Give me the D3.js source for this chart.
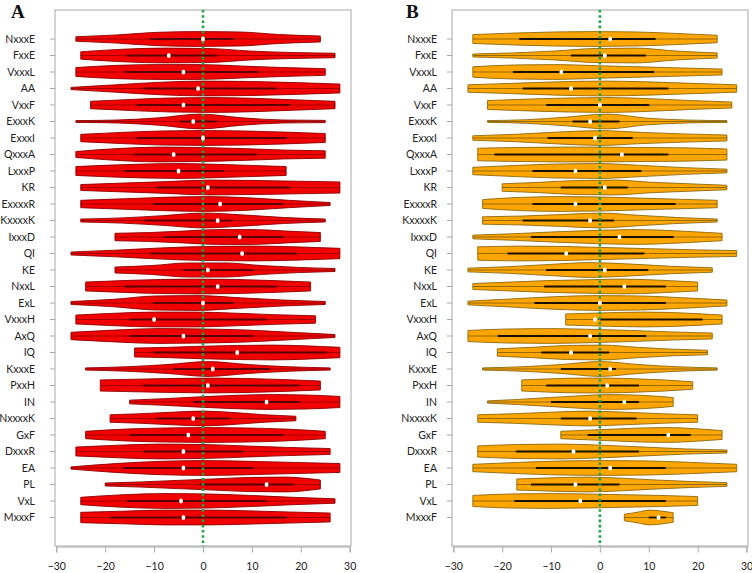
<!DOCTYPE html>
<html><head><meta charset="utf-8">
<script src="https://cdn.jsdelivr.net/npm/d3@7"></script>
<style>body{margin:0;background:#fff}svg{display:block}</style>
</head><body><svg id="c" width="752" height="573"></svg>
<script>
const categories = ["NxxxE","FxxE","VxxxL","AA","VxxF","ExxxK","ExxxI","QxxxA","LxxxP","KR","ExxxxR","KxxxxK","IxxxD","QI","KE","NxxL","ExL","VxxxH","AxQ","IQ","KxxxE","PxxH","IN","NxxxxK","GxF","DxxxR","EA","PL","VxL","MxxxF"];
const xTicks = [-30,-20,-10,0,10,20,30];

// Panel A
const minA = [-26,-25,-26,-27,-23,-26,-25,-26,-26,-25,-25,-25,-18,-27,-18,-24,-27,-26,-27,-14,-24,-21,-15,-19,-24,-26,-27,-20,-25,-25];
const maxA = [24,27,25,28,27,25,25,25,17,28,26,25,24,28,27,22,25,23,27,28,26,24,28,19,25,26,28,24,27,26];
const q1A  = [-10.8,-15.6,-16,-12.2,-13.6,-4.7,-13.6,-14.2,-16,-9.5,-10.2,-12,-8.1,-10.8,-4,-16,-10.2,-15,-15,-10.2,-6,-12.2,-2,-9.5,-15,-12.2,-16.3,-0.6,-15.6,-19];
const q3A  = [6.2,2.8,11.3,15.1,17.8,2.8,17.1,11,4.2,17.8,16.4,6,16.4,19.2,10.3,15,6.2,13,10.3,25.3,13.7,19.8,19.8,5.5,16.4,8.2,10.3,18.5,13,17.1];
const medA = [0,-7,-4,-1,-4,-2,0,-6,-5,1,3.5,3,7.5,8,1,3,0,-10,-4,7,2,1,13,-2,-3,-4,-4,13,-4.5,-4];
const densA = [
 [0.3,0.55,0.9,1,0.95,0.6,0.4],[0.5,0.85,1,0.95,0.6,0.4,0.3],[0.6,0.9,1,1,0.8,0.6,0.45],
 [0.15,0.5,0.85,1,0.95,0.8,0.6],[0.5,0.75,0.95,1,0.9,0.7,0.5],[0.12,0.2,0.5,1,0.5,0.2,0.15],
 [0.5,0.75,0.95,1,0.95,0.8,0.6],[0.4,0.8,1,0.95,0.8,0.6,0.5],[0.6,0.8,0.95,1,0.9,0.75,0.6],
 [0.4,0.6,0.8,1,0.95,0.85,0.75],[0.5,0.7,0.9,1,0.85,0.5,0.2],[0.2,0.35,0.65,1,0.75,0.4,0.2],
 [0.5,0.6,0.8,1,1,0.8,0.6],[0.2,0.45,0.75,0.95,1,0.9,0.7],[0.4,0.6,0.95,0.95,0.6,0.35,0.2],
 [0.6,0.8,0.95,1,0.95,0.8,0.6],[0.2,0.5,0.95,1,0.7,0.4,0.2],[0.6,0.85,1,1,0.85,0.65,0.5],
 [0.5,0.8,1,0.95,0.8,0.5,0.2],[0.6,0.7,0.85,0.95,1,0.9,0.7],[0.15,0.3,0.6,1,0.6,0.3,0.15],
 [0.75,0.85,0.95,1,0.95,0.8,0.6],[0.25,0.45,0.7,0.9,1,0.95,0.75],[0.5,0.65,0.85,1,0.8,0.5,0.3],
 [0.5,0.8,0.95,1,0.95,0.8,0.5],[0.6,0.85,1,0.95,0.75,0.55,0.4],[0.15,0.6,0.9,1,0.9,0.75,0.6],
 [0.2,0.35,0.55,0.75,0.95,1,0.6],[0.5,0.85,1,0.95,0.75,0.5,0.3],[0.7,0.85,1,1,0.9,0.75,0.6]
];

// Panel B
const minB = [-26,-26,-26,-27,-23,-23,-26,-25,-26,-20,-24,-24,-26,-25,-27,-26,-27,-7,-27,-21,-24,-16,-23,-25,-8,-25,-26,-17,-26,5];
const maxB = [24,24,25,28,27,26,26,26,26,26,24,24,25,28,23,20,26,25,23,22,24,19,15,20,25,26,28,26,20,15];
const q1B  = [-16.5,-5.9,-17.8,-15.8,-11,-5.6,-10.7,-21.6,-13.8,-8,-13.8,-15.8,-14.1,-18.9,-11,-11.4,-13.4,0,-20.9,-12,-8,-11,-10,-8,-2.5,-17.2,-13.1,-14.1,-17.5,10];
const q3B  = [11.4,9.4,11.1,14,10.1,4,6.7,14,8.5,5.7,15.5,2.9,15.1,9.1,9.9,13.5,13.5,21,9.5,1.9,3.3,8,8,7.5,18.6,8,13.5,4,13.5,13.5];
const medB = [2.1,1,-7.9,-5.9,0,-2,-1,4.5,-5,1,-5,-2,4,-6.9,1,5,0,-1,-2,-5.9,2.1,1.5,5,-2,14,-5.4,2.1,-5,-4,12];
const densB = [
 [0.6,0.8,0.95,1,0.95,0.75,0.5],[0.2,0.35,0.6,0.95,1,0.6,0.35],[0.7,0.95,1,0.85,0.7,0.55,0.4],
 [0.5,0.7,0.9,1,0.9,0.7,0.5],[0.6,0.8,0.95,1,0.85,0.6,0.4],[0.12,0.25,0.6,1,0.45,0.2,0.12],
 [0.3,0.5,0.8,1,0.75,0.55,0.4],[0.85,0.95,1,1,0.95,0.9,0.75],[0.5,0.75,0.95,1,0.75,0.45,0.25],
 [0.5,0.7,0.95,1,0.7,0.5,0.3],[0.6,0.9,1,0.95,0.8,0.65,0.5],[0.5,0.6,0.8,1,0.7,0.4,0.2],
 [0.25,0.45,0.7,0.9,1,0.8,0.5],[0.9,1,0.95,0.8,0.65,0.5,0.4],[0.25,0.45,0.75,1,0.8,0.5,0.3],
 [0.4,0.6,0.8,0.9,1,0.85,0.6],[0.25,0.55,0.85,1,0.95,0.7,0.4],[0.75,0.85,0.95,1,0.95,0.8,0.6],
 [0.75,0.95,1,0.9,0.75,0.55,0.4],[0.5,0.7,0.95,1,0.7,0.45,0.3],[0.15,0.3,0.6,1,0.6,0.3,0.15],
 [0.75,0.9,1,1,0.9,0.75,0.5],[0.15,0.35,0.6,0.85,1,0.9,0.6],[0.5,0.65,0.85,1,0.85,0.65,0.5],
 [0.5,0.65,0.8,0.95,1,0.85,0.6],[0.75,0.95,1,0.85,0.6,0.35,0.2],[0.5,0.75,0.95,1,0.95,0.75,0.5],
 [0.75,0.9,1,0.85,0.6,0.4,0.25],[0.75,0.95,1,0.95,0.85,0.75,0.6],[0.45,0.6,0.8,1,0.95,0.8,0.65]
];

const svg = d3.select("#c");
const font = "Lato, 'Liberation Sans', Arial, sans-serif";

function panel(opt){
  const {letter, boxL, boxR, x0, x1, labelX, mins, maxs, q1, q3, med, dens, fill, stroke, whisk, iqr} = opt;
  const top = 10, bottom = 546;
  const x = d3.scaleLinear().domain([-30,30]).range([x0,x1]);
  const y = d3.scalePoint().domain(categories).range([39, 517.5]);
  const w = d3.scaleLinear().domain([0,1]).range([0,7.4]);
  const g = svg.append("g");

  g.append("rect").attr("x",boxL).attr("y",top).attr("width",boxR-boxL).attr("height",bottom-top)
    .attr("fill","none").attr("stroke","#a8a8a8").attr("stroke-width",1);

  categories.forEach((c,i)=>{
    const cy = y(c);
    const n = dens[i].length;
    const pts = dens[i].map((d,k)=>({v: mins[i] + (maxs[i]-mins[i])*k/(n-1), d}));
    const area = d3.area().curve(d3.curveMonotoneX)
      .x(p=>x(p.v)).y0(p=>cy - w(p.d)).y1(p=>cy + w(p.d));
    g.append("path").attr("d", area(pts)).attr("fill",fill).attr("stroke",stroke).attr("stroke-width",0.9);
    g.append("line").attr("x1",x(mins[i])).attr("x2",x(maxs[i])).attr("y1",cy).attr("y2",cy)
      .attr("stroke",whisk).attr("stroke-width",0.8);
    g.append("line").attr("x1",x(q1[i])).attr("x2",x(q3[i])).attr("y1",cy).attr("y2",cy)
      .attr("stroke",iqr).attr("stroke-width",1.8);
  });

  // zero line
  g.append("line").attr("x1",x(0)).attr("x2",x(0)).attr("y1",top).attr("y2",bottom)
    .attr("stroke","#22a048").attr("stroke-width",2.6).attr("stroke-dasharray","2.6,2.6");

  categories.forEach((c,i)=>{
    g.append("ellipse").attr("cx",x(med[i])).attr("cy",y(c)).attr("rx",1.9).attr("ry",2.5).attr("fill","#fff");
  });

  // y axis ticks + labels
  categories.forEach(c=>{
    g.append("line").attr("x1",boxL-5).attr("x2",boxL).attr("y1",y(c)).attr("y2",y(c)).attr("stroke","#a8a8a8");
    g.append("text").attr("x",labelX).attr("y",y(c)).attr("dy","0.35em").attr("text-anchor","end")
      .attr("font-family",font).attr("font-size",10.5).attr("fill","#222").text(c);
  });

  // x axis
  const ax = g.append("g").attr("transform",`translate(0,${bottom+0.5})`)
    .call(d3.axisBottom(x).tickValues(xTicks).tickSize(6).tickPadding(10).tickFormat(d3.format("d")));
  ax.select(".domain").attr("stroke","#a8a8a8");
  ax.selectAll(".tick line").attr("stroke","#a8a8a8");
  ax.selectAll("text").attr("font-family",font).attr("font-size",10.5).attr("fill","#222");

  g.append("text").attr("x",opt.letterX).attr("y",18).attr("font-family","'Liberation Serif', 'Times New Roman', serif")
    .attr("font-weight","bold").attr("font-size",19).attr("fill","#111").text(letter);
}

panel({letter:"A", letterX:11, boxL:55, boxR:351, x0:56.3, x1:349.7, labelX:35,
  mins:minA, maxs:maxA, q1:q1A, q3:q3A, med:medA, dens:densA,
  fill:"#f20000", stroke:"#8b0000", whisk:"#900000", iqr:"#5a0000"});
panel({letter:"B", letterX:406, boxL:452, boxR:748, x0:453.3, x1:746.5, labelX:437,
  mins:minB, maxs:maxB, q1:q1B, q3:q3B, med:medB, dens:densB,
  fill:"#ffa500", stroke:"#8a6a10", whisk:"#7a5a10", iqr:"#1a1000"});
</script></body></html>
